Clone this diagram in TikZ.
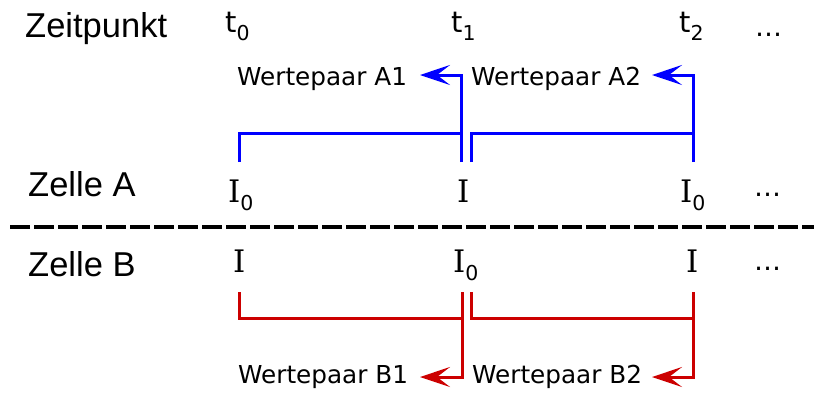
\documentclass[tikz,border=0pt]{standalone}
\usepackage{fontspec}
\usetikzlibrary{arrows.meta}
\newfontfamily\rowfont{Liberation Sans}
\newfontfamily\pairfont{DejaVu Sans}
\newfontfamily\curfont{DejaVu Serif}
\definecolor{lineblue}{RGB}{0,0,255}
\definecolor{linered}{RGB}{204,0,0}
% lowered index digit
\newcommand\subidx[1]{\raisebox{-8.5pt}{\fontsize{20.5}{20.5}\pairfont #1}}

\begin{document}
\begin{tikzpicture}[x=1pt,y=-1pt,
  txt/.style={inner sep=0pt, anchor=base west},
  rowlabel/.style={txt, font=\fontsize{34.5}{40}\rowfont},
  pairlabel/.style={txt, font=\fontsize{24.7}{28}\pairfont},
  ticklabel/.style={txt, font=\fontsize{29}{32}\pairfont},
  curlabel/.style={txt, font=\fontsize{31}{33}\curfont},
  morelabel/.style={txt, font=\fontsize{27}{30}\pairfont},
  bracket/.style={line width=3pt},
  bluebr/.style={bracket, draw=lineblue},
  redbr/.style={bracket, draw=linered},
  pointer/.style={-{Stealth[length=30pt,width=20pt,inset=13pt]}},
  sep/.style={line width=3.5pt, dash pattern=on 20pt off 4pt}
]
\useasboundingbox (0,0) rectangle (819,392);

% row and column headings
\node[rowlabel] (zeit) at (25,37) {Zeitpunkt};
\node[rowlabel] (zA) at (28,196) {Zelle A};
\node[rowlabel] (zB) at (28,276) {Zelle B};

\node[ticklabel] (t0) at (225,32) {t\subidx{0}};
\node[ticklabel] (t1) at (451,32) {t\subidx{1}};
\node[ticklabel] (t2) at (679,32) {t\subidx{2}};
\node[morelabel] (tdots) at (755,36) {…};

% cell A values
\node[curlabel] (a0) at (228,202) {I\subidx{0}};
\node[curlabel] (a1) at (457,202) {I};
\node[curlabel] (a2) at (680,202) {I\subidx{0}};
\node[morelabel] (adots) at (754,196) {…};

% cell B values
\node[curlabel] (b0) at (233,272) {I};
\node[curlabel] (b1) at (453,272) {I\subidx{0}};
\node[curlabel] (b2) at (686,272) {I};
\node[morelabel] (bdots) at (754,270) {…};

% separator between the cells
\coordinate (sepL) at (10,227);
\coordinate (sepR) at (814,227);
\draw[sep] (sepL) -- (sepR);

% value pair labels
\node[pairlabel] (wA1) at (237,85) {Wertepaar A1};
\node[pairlabel] (wA2) at (471,85) {Wertepaar A2};
\node[pairlabel] (wB1) at (238,383) {Wertepaar B1};
\node[pairlabel] (wB2) at (472,383) {Wertepaar B2};

% bracket points, cell A
\coordinate (fa0) at (239,162);
\coordinate (fa1) at (461,162);
\coordinate (fa1r) at (471,162);
\coordinate (fa2) at (693,162);
\coordinate (tipA1) at (420,75);
\coordinate (tipA2) at (652,75);

% bracket points, cell B
\coordinate (fb0) at (239,292);
\coordinate (fb1) at (462,292);
\coordinate (fb1r) at (471,292);
\coordinate (fb2) at (693,292);
\coordinate (tipB1) at (420,377);
\coordinate (tipB2) at (652,377);

% cell A brackets
\draw[bluebr] (fa0) -- ++(0,-29) -| (fa1);
\draw[bluebr, pointer] (fa1) |- (tipA1);
\draw[bluebr] (fa1r) -- ++(0,-29) -| (fa2);
\draw[bluebr, pointer] (fa2) |- (tipA2);

% cell B brackets
\draw[redbr] (fb0) -- ++(0,26) -| (fb1);
\draw[redbr, pointer] (fb1) |- (tipB1);
\draw[redbr] (fb1r) -- ++(0,26) -| (fb2);
\draw[redbr, pointer] (fb2) |- (tipB2);
\end{tikzpicture}
\end{document}
